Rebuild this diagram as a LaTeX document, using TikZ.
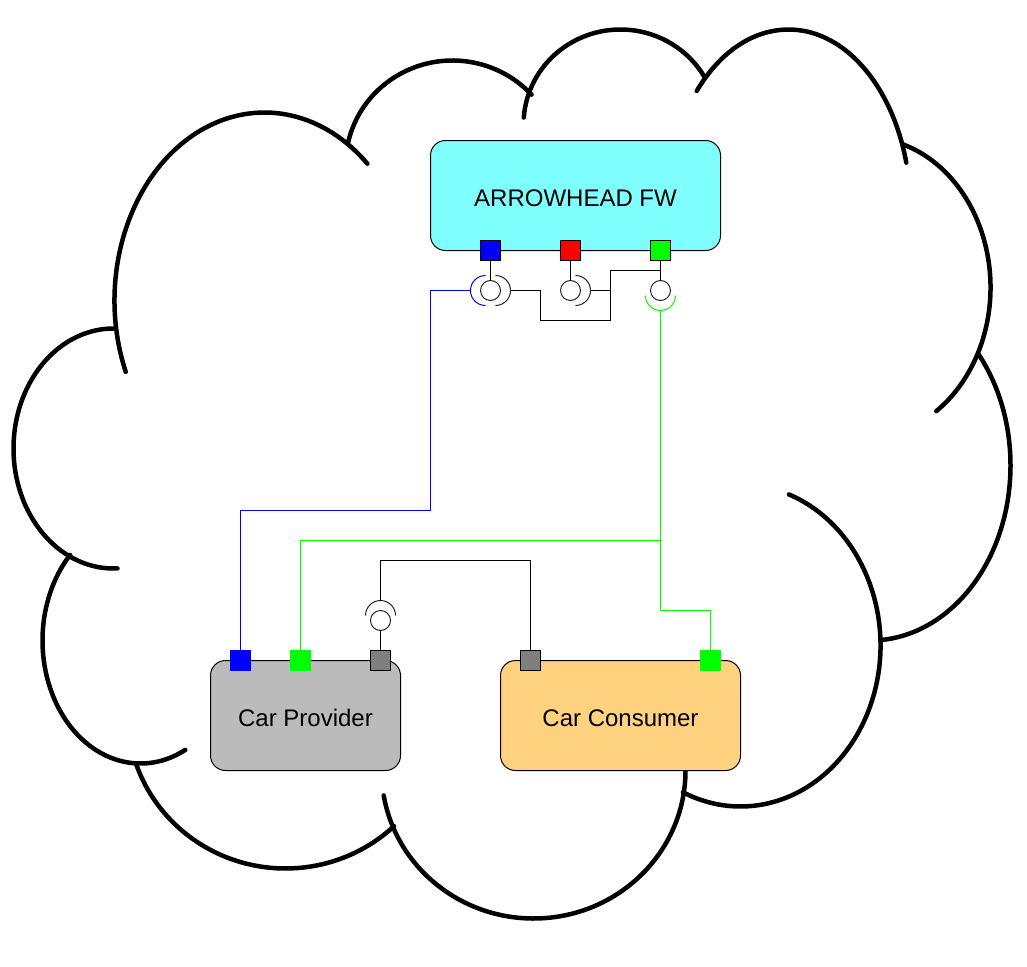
\documentclass[tikz,border=0pt]{standalone}
\usepackage{fontspec}
\setmainfont{Liberation Sans}
\usetikzlibrary{positioning}
\definecolor{cAqua}{HTML}{80FFFF}
\definecolor{cSilver}{HTML}{BBBBBB}
\definecolor{cSand}{HTML}{FFD27F}
\definecolor{cGrey}{HTML}{7F7F7F}
\definecolor{cBlue}{HTML}{0000FF}
\definecolor{cGreen}{HTML}{00FF00}
\definecolor{cRed}{HTML}{FF0000}
\begin{document}
\begin{tikzpicture}[x=1pt,y=-1pt,line width=1pt,font=\fontsize{24}{28}\selectfont,
      cloud/.style={line width=4.5pt,line cap=round},
      unit/.style={draw=black,rounded corners=15pt,minimum height=110pt,inner sep=0pt,text height=21pt,text depth=0pt},
      port/.style={draw=black,minimum size=20pt,inner sep=0pt},
      flatport/.style={draw=#1,fill=#1,minimum size=20pt,inner sep=0pt},
      provided/.style={draw=black!85,fill=white,circle,minimum size=20pt,inner sep=0pt},
      socket/.style={black!85}]
    \useasboundingbox (-0.5,-0.5) rectangle (1026.5,965.5);

    % cloud outline, one lobe at a time
    \foreach \cx/\cy/\rx/\ry/\ts/\te in {264/300/150/188/157.7/313.3,
        452/165/107/105/192.3/317.6,
        620/124/97/95/184.2/330,
        788/209/122/180/221.2/344.9,
        865/287/125/150/-72.4/55.5,
        870/465/140/175/-39.2/85.5,
        740/645/140/161/-69.8/114.3,
        533/770/152/148/0.4/170.3,
        285/713/158/155/46.6/161.2,
        140/640/98/123/62.8/224.1,
        113/448/100/120/87.7/270}
      \draw[cloud] (\cx,\cy) ++({\rx*cos(\ts)},{\ry*sin(\ts)}) arc[start angle=\ts,end angle=\te,x radius=\rx,y radius=\ry];

    % units
    \node[unit,fill=cAqua,minimum width=290pt] (arrowheadFw) at (575,195) {ARROWHEAD FW};
    \node[unit,fill=cSilver,minimum width=190pt] (carProvider) at (305,715) {Car Provider};
    \node[unit,fill=cSand,minimum width=240pt] (carConsumer) at (620,715) {Car Consumer};

    % ports
    \node[port,fill=cBlue] (fwBlue) at (490,250) {};
    \node[port,fill=cRed] (fwRed) at (570,250) {};
    \node[port,fill=cGreen] (fwGreen) at (660,250) {};
    \node[flatport=cBlue] (provBlue) at (240,660) {};
    \node[flatport=cGreen] (provGreen) at (300,660) {};
    \node[port,fill=cGrey] (provGrey) at (380,660) {};
    \node[port,fill=cGrey] (consGrey) at (530,660) {};
    \node[flatport=cGreen] (consGreen) at (710,660) {};

    % provided interfaces
    \node[provided] (ifBlue) at (490,290) {};
    \node[provided] (ifRed) at (570,290) {};
    \node[provided] (ifGreen) at (660,290) {};
    \node[provided] (ifGrey) at (380,620) {};
    \draw (fwBlue) -- (ifBlue);
    \draw (fwRed) -- (ifRed);
    \draw (fwGreen) -- (ifGreen);
    \draw (provGrey) -- (ifGrey);

    % sockets
    \coordinate (sockBlue) at (470,290);
    \coordinate (sockBlack) at (510,290);
    \coordinate (sockRed) at (590,290);
    \coordinate (sockGreen) at (660,310);
    \coordinate (sockGrey) at (380,600);
    \draw[cBlue] (485,305) arc[start angle=90,delta angle=180,radius=15];
    \draw[socket] (495,275) arc[start angle=-90,delta angle=180,radius=15];
    \draw[socket] (575,275) arc[start angle=-90,delta angle=180,radius=15];
    \draw[cGreen] (675,295) arc[start angle=0,delta angle=180,radius=15];
    \draw[socket] (365,615) arc[start angle=180,delta angle=180,radius=15];

    % wires
    \coordinate (tapRed) at (610,290);
    \coordinate (tapGreen) at (660,270);
    \coordinate (tapProv) at (660,540);
    \draw (sockBlack) -- (540,290) -- (540,320) -- (610,320) -- (610,270) -- (tapGreen);
    \draw (sockRed) -- (tapRed);
    \draw[cBlue] (sockBlue) -- (430,290) -- (430,510) -- (240,510) -- (provBlue);
    \draw[cGreen] (sockGreen) -- (660,610) -- (710,610) -- (consGreen);
    \draw[cGreen] (tapProv) -- (300,540) -- (provGreen);
    \draw (sockGrey) -- (380,560) -- (530,560) -- (consGrey);
  \end{tikzpicture}
\end{document}
